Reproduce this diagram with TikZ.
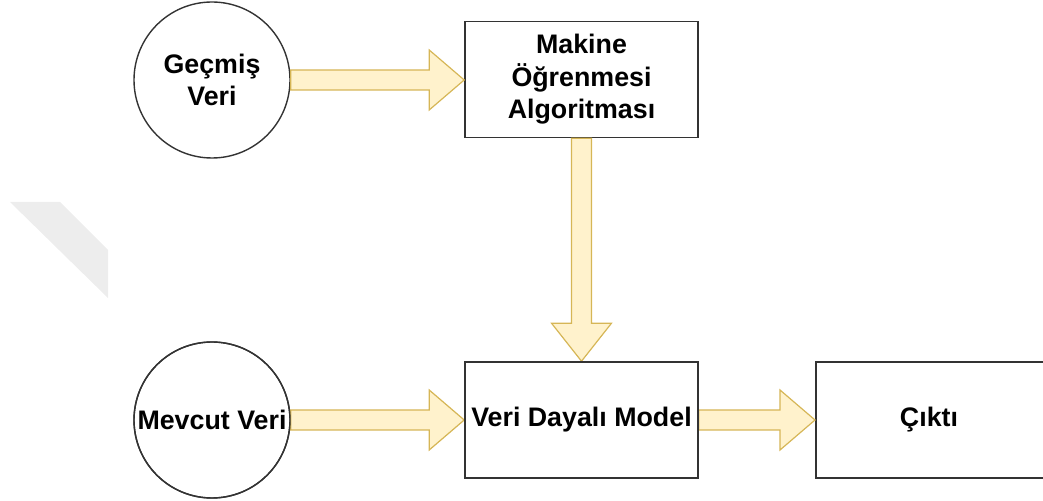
\documentclass[tikz,border=0pt]{standalone}
\usepackage{fontspec}
\setmainfont{Liberation Sans}
\usetikzlibrary{calc}
\definecolor{arrowfill}{HTML}{FFF2CC}
\definecolor{arrowdraw}{HTML}{D6B656}
\definecolor{linegray}{HTML}{333333}
\definecolor{wmgray}{HTML}{EDEDED}
\tikzset{
  circnode/.style={circle, draw=linegray, line width=0.7pt, fill=white, minimum size=78pt, inner sep=0pt, align=center, font=\bfseries\fontsize{13.4}{16.2}\selectfont},
  boxnode/.style={rectangle, draw=linegray, line width=0.8pt, fill=white, minimum width=116.5pt, minimum height=58pt, inner sep=0pt, align=center, font=\bfseries\fontsize{13.4}{16.2}\selectfont},
  fat/.style={fill=arrowfill, draw=arrowdraw, line width=0.6pt, line join=miter},
}
\newcommand\fatright[2]{%
  \path[fat] let \p1=(#1), \p2=(#2) in
    (\x1,\y1+5pt) -- (\x2-17.5pt,\y1+5pt) -- (\x2-17.5pt,\y1+15pt) -- (\x2,\y1)
    -- (\x2-17.5pt,\y1-15pt) -- (\x2-17.5pt,\y1-5pt) -- (\x1,\y1-5pt) -- cycle;}
\newcommand\fatdown[2]{%
  \path[fat] let \p1=(#1), \p2=(#2) in
    (\x1-5pt,\y1) -- (\x1-5pt,\y2+19pt) -- (\x1-15pt,\y2+19pt) -- (\x1,\y2)
    -- (\x1+15pt,\y2+19pt) -- (\x1+5pt,\y2+19pt) -- (\x1+5pt,\y1) -- cycle;}
\begin{document}
\begin{tikzpicture}[x=0.5pt, y=-0.5pt]
  \useasboundingbox (0,0) rectangle (1043,501);
  \clip (0,0) rectangle (1043,501);
  % watermark
  \fill[wmgray] (10,202) -- (60,202) -- (108,250) -- (108,298) -- cycle;
  % nodes
  \node[circnode] (gecmis) at (212,80) {Geçmiş\\Veri};
  \node[circnode] (mevcut) at (212,420) {Mevcut Veri};
  \node[boxnode] (algo) at (581.5,79.5) {Makine\\Öğrenmesi\\Algoritması};
  \node[boxnode] (model) at (581.5,420) {Veri Dayalı Model};
  \node[boxnode, anchor=west] (cikti) at (815,420) {};
  \node (ciktitext) at (929,420) {\bfseries\fontsize{13.4}{16.2}\selectfont Çıktı};
  % connectors
  \fatright{gecmis.east}{algo.west}
  \fatright{mevcut.east}{model.west}
  \fatright{model.east}{cikti.west}
  \fatdown{algo.south}{model.north}
  % redraw borders on top
  \node[circnode, fill=none] at (mevcut) {};
  \node[boxnode, fill=none] at (model) {};
\end{tikzpicture}
\end{document}
